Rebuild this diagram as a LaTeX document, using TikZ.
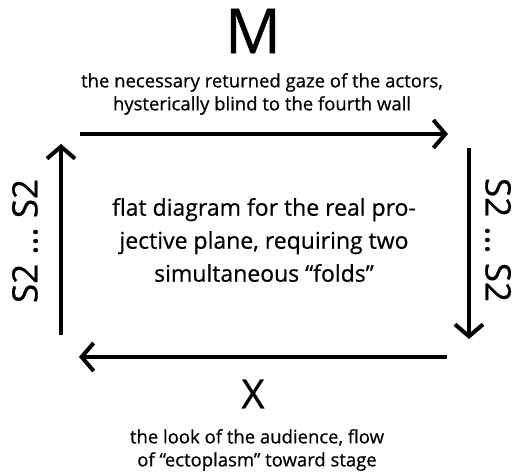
\documentclass[tikz,border=0pt]{standalone}
\usepackage{fontspec}
\setmainfont[FakeBold=0.6]{Open Sans}
\usetikzlibrary{positioning,arrows.meta}

\begin{document}
\begin{tikzpicture}[x=1pt, y=1pt,
  caption/.style={font=\fontsize{18.5}{23}\selectfont, align=center, inner sep=0pt},
  bigletter/.style={inner sep=0pt},
  sidelabel/.style={font=\fontsize{35}{40}\selectfont, inner sep=0pt},
  fold/.style={-{Straight Barb[length=12pt, width=28pt, line width=4pt]}, line width=4pt}]
  \useasboundingbox (0,0) rectangle (514,476);
  % letters and captions
  \node[bigletter, font=\fontsize{62}{66}\selectfont] (m) at (253,445) {M};
  \node[caption] (gaze) at (262,382) {the necessary returned gaze of the actors,\\hysterically blind to the fourth wall};
  \node[caption, font=\fontsize{23}{33}\selectfont] (plane) at (264,236) {flat diagram for the real pro-\\jective plane, requiring two\\simultaneous “folds”};
  \node[bigletter, font=\fontsize{40}{44}\selectfont] (x) at (253,82) {X};
  \node[caption] (look) at (257,26) {the look of the audience, flow\\of “ectoplasm” toward stage};
  \node[sidelabel, rotate=90] (left) at (25,235) {S2 … S2};
  \node[sidelabel, rotate=-90] (right) at (498,236) {S2 … S2};
  % the square
  \coordinate (ta) at (80,342); \coordinate (tb) at (448,342);
  \coordinate (ra) at (469,328); \coordinate (rb) at (469,137);
  \coordinate (ba) at (447,119); \coordinate (bb) at (79,119);
  \coordinate (la) at (61,141); \coordinate (lb) at (61,332);
  \draw[fold] (ta) -- (tb); \draw[fold] (ra) -- (rb);
  \draw[fold] (ba) -- (bb); \draw[fold] (la) -- (lb);
\end{tikzpicture}
\end{document}
